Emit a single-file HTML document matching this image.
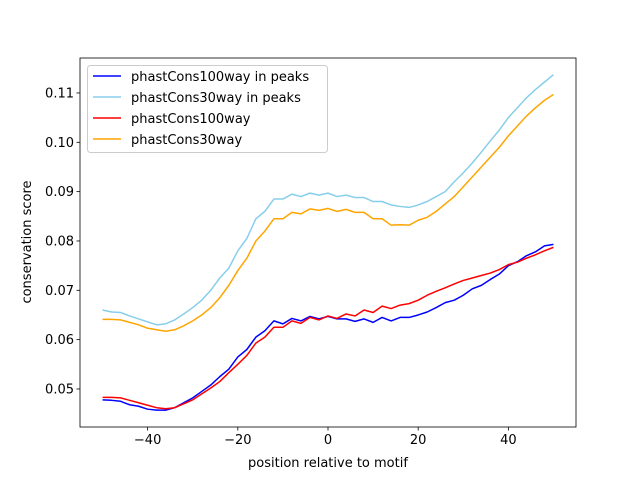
<!DOCTYPE html>
<html><head><meta charset="utf-8"><style>
body{margin:0;background:#fff;font-family:"Liberation Sans","DejaVu Sans",sans-serif;}
svg text{font-family:"DejaVu Sans","Liberation Sans",sans-serif;font-size:13px;fill:#000}
</style></head><body>
<svg id="chart" width="640" height="480" xmlns="http://www.w3.org/2000/svg"></svg>
<script>
const positions = [-50,-48,-46,-44,-42,-40,-38,-36,-34,-32,-30,-28,-26,-24,-22,-20,-18,-16,-14,-12,-10,-8,-6,-4,-2,0,2,4,6,8,10,12,14,16,18,20,22,24,26,28,30,32,34,36,38,40,42,44,46,48,50];
const cons100Peaks = [0.0478,0.0477,0.0475,0.0468,0.0465,0.0459,0.0457,0.0457,0.0462,0.0472,0.0482,0.0495,0.0508,0.0525,0.054,0.0565,0.058,0.0605,0.0618,0.0638,0.0632,0.0643,0.0638,0.0647,0.0642,0.0647,0.0642,0.0642,0.0637,0.0642,0.0635,0.0645,0.0638,0.0645,0.0645,0.065,0.0656,0.0665,0.0675,0.068,0.069,0.0703,0.071,0.0722,0.0733,0.075,0.0758,0.077,0.0778,0.079,0.0793];
const cons30Peaks = [0.066,0.0656,0.0655,0.0648,0.0642,0.0636,0.063,0.0632,0.064,0.0652,0.0665,0.068,0.07,0.0725,0.0745,0.078,0.0805,0.0845,0.086,0.0885,0.0885,0.0895,0.089,0.0897,0.0893,0.0897,0.089,0.0893,0.0888,0.0888,0.088,0.088,0.0873,0.087,0.0868,0.0873,0.088,0.089,0.09,0.092,0.0938,0.0958,0.098,0.1003,0.1025,0.105,0.107,0.109,0.1107,0.1122,0.1137];
const cons100 = [0.0483,0.0483,0.0482,0.0477,0.0472,0.0467,0.0462,0.046,0.0462,0.047,0.0478,0.049,0.0502,0.0515,0.0533,0.055,0.0568,0.0593,0.0605,0.0625,0.0625,0.0638,0.0633,0.0645,0.064,0.0648,0.0643,0.0652,0.0648,0.066,0.0655,0.0668,0.0663,0.067,0.0673,0.068,0.069,0.0698,0.0705,0.0713,0.072,0.0725,0.073,0.0735,0.0742,0.0752,0.0757,0.0765,0.0772,0.078,0.0787];
const cons30 = [0.0641,0.0641,0.064,0.0635,0.063,0.0623,0.062,0.0617,0.062,0.0628,0.0638,0.065,0.0665,0.0685,0.071,0.074,0.0765,0.08,0.082,0.0845,0.0845,0.0858,0.0855,0.0865,0.0862,0.0866,0.086,0.0864,0.0858,0.0858,0.0845,0.0845,0.0832,0.0833,0.0832,0.0842,0.0848,0.086,0.0875,0.089,0.091,0.093,0.095,0.097,0.099,0.1013,0.1033,0.1053,0.107,0.1085,0.1097];
const xTicks = [-40,-20,0,20,40];
const yTicks = [0.05,0.06,0.07,0.08,0.09,0.10,0.11];
const seriesNames = ["phastCons100way in peaks","phastCons30way in peaks","phastCons100way","phastCons30way"];

const L=80,R=576,T=58,B=427;
const xMin=-55,xMax=55,yMin=0.04229,yMax=0.11709;
const sx=v=>L+(v-xMin)/(xMax-xMin)*(R-L);
const sy=v=>B-(v-yMin)/(yMax-yMin)*(B-T);
const svg=document.getElementById('chart');
const NS='http://www.w3.org/2000/svg';
function mk(tag,attrs,parent){const e=document.createElementNS(NS,tag);for(const k in attrs)e.setAttribute(k,attrs[k]);(parent||svg).appendChild(e);return e;}

const series=[[cons100Peaks,'#0000ff','series-phastcons100way-peaks'],[cons30Peaks,'#87ceeb','series-phastcons30way-peaks'],[cons100,'#ff0000','series-phastcons100way'],[cons30,'#ffa500','series-phastcons30way']];
series.forEach(s=>{
  const d=positions.map((p,i)=>(i?'L':'M')+sx(p).toFixed(2)+','+sy(s[0][i]).toFixed(2)).join('');
  const path=mk('path',{d:d,fill:'none',stroke:s[1],'stroke-width':1.5,'stroke-linejoin':'round'});
  
  
});

const frame=mk('rect',{x:L,y:T,width:R-L,height:B-T,fill:'none',stroke:'#000','stroke-width':0.8});



xTicks.forEach(t=>{
  const x=sx(t);
  const tk=mk('line',{x1:x,x2:x,y1:B,y2:B+3.5,stroke:'#000','stroke-width':0.8});
  
  
  const tx=mk('text',{x:x,y:B+17,'text-anchor':'middle'});
  tx.textContent=(t<0?'\u2212'+(-t):t);
  
  
});
yTicks.forEach(t=>{
  const y=sy(t);
  const tk=mk('line',{x1:L-3.5,x2:L,y1:y,y2:y,stroke:'#000','stroke-width':0.8});
  
  
  const tx=mk('text',{x:L-6,y:y+4.5,'text-anchor':'end'});
  tx.textContent=t.toFixed(2);
  
  
});
const xl=mk('text',{x:(L+R)/2,y:467,'text-anchor':'middle'});
xl.textContent='position relative to motif';


const yl=mk('text',{x:0,y:0,'text-anchor':'middle',transform:'translate(31,242) rotate(-90)'});
yl.textContent='conservation score';



const lg=mk('g',{});


mk('rect',{x:87.5,y:65.5,width:240,height:87,rx:3,fill:'#fff','fill-opacity':0.8,stroke:'#ccc'},lg);
series.forEach((s,i)=>{
  const y=76+i*21;
  const ln=mk('line',{x1:93,x2:121,y1:y,y2:y,stroke:s[1],'stroke-width':1.5},lg);
  
  
  const tx=mk('text',{x:131,y:y+5},lg);
  tx.textContent=seriesNames[i];
  
  
});
</script>
</body></html>
